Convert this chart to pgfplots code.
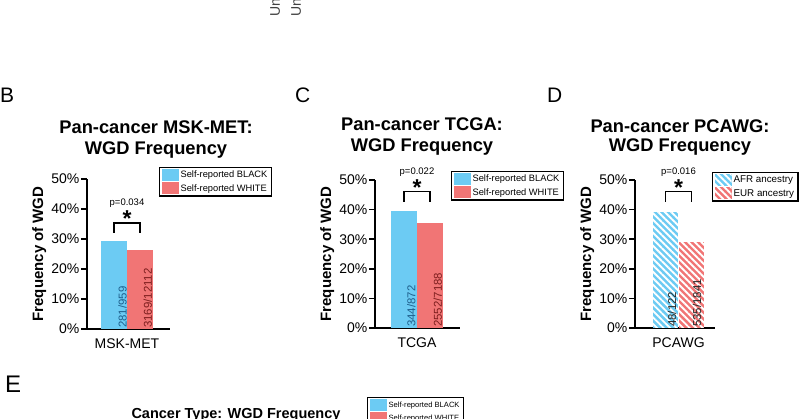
\documentclass[border=0pt]{standalone}
\usepackage{fontspec}
\setmainfont{Liberation Sans}
\usepackage{pgfplots}
\pgfplotsset{compat=1.18}
\usetikzlibrary{patterns.meta}

\definecolor{bblue}{RGB}{108,203,243}
\definecolor{wred}{RGB}{241,117,117}
\definecolor{btxt}{RGB}{30,95,140}
\definecolor{rtxt}{RGB}{125,30,30}

\newcommand{\fs}[1]{\fontsize{#1}{#1}\selectfont}

\pgfplotsset{
  swatch/.style={legend image code/.code={\path[##1,draw=none] (0pt,-6pt) rectangle (17pt,6pt);}},
  wgd/.style={
    scale only axis, anchor=south west,
    ybar, bar width=25.5pt,
    ymin=0, ymax=50,
    axis lines*=left,
    axis line style={line width=1.6pt},
    ytick={0,10,20,30,40,50},
    yticklabels={0\%,10\%,20\%,30\%,40\%,50\%},
    ytick style={line width=1.6pt, black},
    tick align=outside,
    major tick length=6pt,
    xtick={0},
    xtick style={draw=none},
    tick label style={font=\fs{14}},
    yticklabel style={inner xsep=1.5pt},
    ylabel={Frequency of WGD},
    ylabel style={font=\bfseries\fs{15}},
    clip=false,
    legend cell align=left,
    legend style={draw=black, line width=1.2pt, font=\fs{9.3}, inner xsep=2pt,
      inner ysep=1.5pt, row sep=1pt, anchor=north west},
    swatch,
  },
  hatch/.style={postaction={pattern={Lines[angle=-45,distance=4.6pt,line width=1.9pt]}, pattern color=white}},
}

\begin{document}
\begin{tikzpicture}
\useasboundingbox (0,0) rectangle (800pt,419pt);

% cut-off text from the panel above
\node[rotate=90, anchor=west, inner sep=0, font=\fs{14}, text=black!75] at (275pt,402pt) {Un};
\node[rotate=90, anchor=west, inner sep=0, font=\fs{14}, text=black!75] at (296pt,402pt) {Un};

% panel letters
\node[anchor=base west, inner sep=0, font=\fs{21}] at (0pt,316pt) {B};
\node[anchor=base west, inner sep=0, font=\fs{21}] at (295pt,316pt) {C};
\node[anchor=base west, inner sep=0, font=\fs{21}] at (547pt,316pt) {D};
\node[anchor=base west, inner sep=0, font=\fs{24}] at (5pt,26pt) {E};

% titles
\node[anchor=base, inner sep=0, font=\bfseries\fs{18.3}] at (156pt,285pt) {Pan-cancer MSK-MET:};
\node[anchor=base, inner sep=0, font=\bfseries\fs{18.3}] at (156pt,264pt) {WGD Frequency};
\node[anchor=base, inner sep=0, font=\bfseries\fs{18.3}] at (422pt,288pt) {Pan-cancer TCGA:};
\node[anchor=base, inner sep=0, font=\bfseries\fs{18.3}] at (422pt,267pt) {WGD Frequency};
\node[anchor=base, inner sep=0, font=\bfseries\fs{18.3}] at (680pt,286pt) {Pan-cancer PCAWG:};
\node[anchor=base, inner sep=0, font=\bfseries\fs{18.3}] at (680pt,267pt) {WGD Frequency};
\node[anchor=base, inner sep=0, font=\bfseries\fs{14.5}] at (236pt,0.5pt) {Cancer Type: WGD Frequency};

% B: MSK-MET
\begin{axis}[wgd, at={(87pt,90pt)}, width=83pt, height=150pt,
  xmin=-1.538, xmax=1.654, xticklabels={MSK-MET},
  legend style={at={(0.867,1.08)}}]
\addplot[fill=bblue, draw=none, bar shift=0pt] coordinates {(-0.5,29.30)};
\addlegendentry{Self-reported BLACK}
\addplot[fill=wred, draw=none, bar shift=0pt] coordinates {(0.5,26.17)};
\addlegendentry{Self-reported WHITE}
\node[rotate=90, anchor=west, inner sep=1pt, font=\fs{11.4}, text=btxt] at (axis cs:-0.17,0) {281/959};
\node[rotate=90, anchor=west, inner sep=1pt, font=\fs{11.4}, text=rtxt] at (axis cs:0.8,0) {3169/12112};
\draw[line width=1.5pt] (axis cs:-0.5,32) -- (axis cs:-0.5,35.3) -- (axis cs:0.5,35.3) -- (axis cs:0.5,32);
\node[anchor=base, inner sep=0, font=\bfseries\fs{23}, yshift=-13.3pt] at (axis cs:0,38.7) {*};
\node[inner sep=0, font=\fs{9.5}] at (axis cs:0,42) {p=0.034};
\end{axis}

% C: TCGA
\begin{axis}[wgd, at={(375pt,91pt)}, width=85pt, height=148pt,
  xmin=-1.615, xmax=1.654, xticklabels={TCGA},
  legend style={at={(0.894,1.061)}}]
\addplot[fill=bblue, draw=none, bar shift=0pt] coordinates {(-0.5,39.45)};
\addlegendentry{Self-reported BLACK}
\addplot[fill=wred, draw=none, bar shift=0pt] coordinates {(0.5,35.50)};
\addlegendentry{Self-reported WHITE}
\node[rotate=90, anchor=west, inner sep=1pt, font=\fs{11.4}, text=btxt] at (axis cs:-0.22,0) {344/872};
\node[rotate=90, anchor=west, inner sep=1pt, font=\fs{11.4}, text=rtxt] at (axis cs:0.8,0) {2552/7188};
\draw[line width=1.5pt] (axis cs:-0.5,42.7) -- (axis cs:-0.5,46.05) -- (axis cs:0.5,46.05) -- (axis cs:0.5,42.7);
\node[anchor=base, inner sep=0, font=\bfseries\fs{23}, yshift=-13.3pt] at (axis cs:0,49.4) {*};
\node[inner sep=0, font=\fs{9.5}] at (axis cs:0,52.8) {p=0.022};
\end{axis}

% D: PCAWG
\begin{axis}[wgd, at={(635pt,91pt)}, width=80pt, height=148pt,
  xmin=-1.673, xmax=1.404, xticklabels={PCAWG},
  legend style={at={(0.9625,1.054)}, font=\fs{9.8}}]
\addplot[fill=bblue, draw=none, bar shift=0pt, hatch] coordinates {(-0.5,39.34)};
\addlegendentry{AFR ancestry}
\addplot[fill=wred, draw=none, bar shift=0pt, hatch] coordinates {(0.5,29.06)};
\addlegendentry{EUR ancestry}
\node[rotate=90, anchor=west, inner sep=1pt, font=\fs{11.4}, text=black!85] at (axis cs:-0.25,0) {48/122};
\node[rotate=90, anchor=west, inner sep=1pt, font=\fs{11.4}, text=black!85] at (axis cs:0.71,0) {535/1841};
\draw[line width=1.5pt] (axis cs:-0.5,42.7) -- (axis cs:-0.5,46.05) -- (axis cs:0.5,46.05) -- (axis cs:0.5,42.7);
\node[anchor=base, inner sep=0, font=\bfseries\fs{23}, yshift=-13.3pt] at (axis cs:0,49.4) {*};
\node[inner sep=0, font=\fs{9.5}] at (axis cs:0,52.8) {p=0.016};
\end{axis}

% E: legend of the panel below (cut off)
\begin{axis}[hide axis, scale only axis, width=10pt, height=10pt,
  at={(367pt,22pt)}, anchor=north west,
  xmin=0, xmax=1, ymin=0, ymax=1, swatch,
  legend cell align=left,
  legend style={at={(0,1)}, anchor=north west, draw=black, line width=1.2pt,
    font=\fs{7.6}, inner xsep=2pt, inner ysep=1.5pt, row sep=1pt}]
\addlegendimage{fill=bblue, draw=none}
\addlegendentry{Self-reported BLACK}
\addlegendimage{fill=wred, draw=none}
\addlegendentry{Self-reported WHITE}
\end{axis}
\end{tikzpicture}
\end{document}
